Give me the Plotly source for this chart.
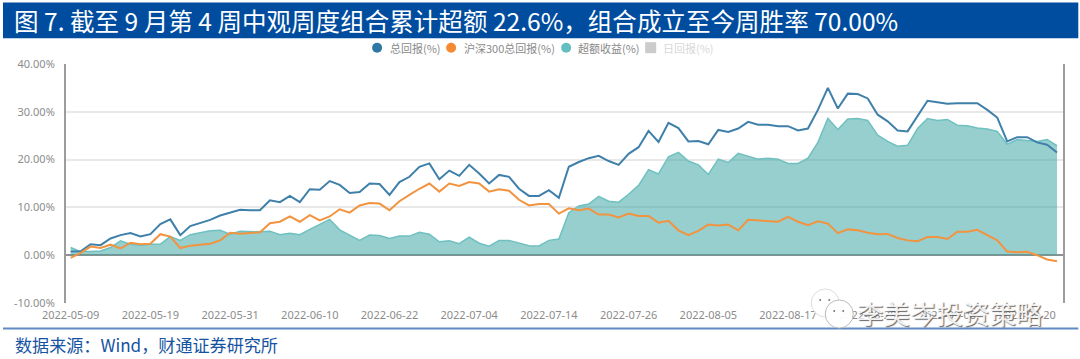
import pandas as pd
import plotly.graph_objects as go

dates = [d.strftime("%Y-%m-%d") for d in pd.bdate_range("2022-05-09", "2022-09-23")]

total_return = [0.75,0.8,2.3,2.1,3.5,4.2,4.65,3.9,4.4,6.5,7.5,4.2,6.1,6.8,7.4,8.3,8.9,9.5,9.4,9.4,
    11.5,11.1,12.4,11.1,13.8,13.7,15.5,14.7,13.0,13.2,15.0,14.9,12.6,15.3,16.4,18.5,19.2,15.9,17.7,16.6,
    18.9,17.1,15.0,16.8,16.4,13.9,12.4,12.4,13.6,12.0,18.5,19.5,20.3,20.8,19.7,18.9,21.2,22.6,26.0,23.7,
    27.7,26.6,23.8,23.9,23.2,26.2,25.8,26.5,27.9,27.3,27.3,27.0,27.0,26.1,26.5,30.4,35.0,30.7,33.8,33.7,
    32.8,29.4,28.0,26.1,25.9,29.1,32.3,32.0,31.7,31.8,31.8,31.8,30.4,28.8,23.8,24.7,24.7,23.6,23.1,21.5]

hs300_return = [-0.55,0.5,1.8,1.5,2.2,1.4,2.6,2.3,2.4,4.4,3.9,1.5,2.0,2.2,2.4,3.1,4.7,4.5,4.6,4.8,
    6.7,7.0,8.1,7.0,8.4,7.3,8.1,9.6,8.9,10.4,10.9,10.8,9.4,11.3,12.6,13.9,15.0,13.3,15.0,14.5,
    15.3,15.0,13.3,13.8,13.5,11.6,10.4,10.7,10.7,8.7,9.8,9.4,9.75,8.5,8.5,7.9,8.7,8.2,8.2,6.8,
    7.2,5.2,4.2,5.1,6.4,6.2,6.4,5.2,7.4,7.3,7.2,7.0,8.0,7.0,6.3,7.1,6.6,4.6,5.4,5.2,
    4.7,4.4,4.45,3.6,3.1,2.9,3.8,3.8,3.4,4.9,4.9,5.3,4.2,3.1,0.75,0.6,0.7,0.0,-0.9,-1.25]

excess_return = [1.6,0.75,0.75,0.9,1.6,3.0,2.3,2.1,2.3,2.3,3.9,3.1,4.3,4.75,5.1,5.2,4.4,5.0,4.9,4.9,
    5.0,4.3,4.6,4.3,5.4,6.5,7.5,5.3,4.25,3.1,4.2,4.1,3.5,4.0,4.0,4.8,4.4,2.8,3.0,2.4,
    3.8,2.5,1.9,3.1,3.1,2.5,2.0,1.95,3.1,3.4,8.9,10.3,10.7,12.3,11.3,11.1,12.75,14.6,17.9,17.0,
    20.6,21.5,19.7,18.9,16.9,20.1,19.4,21.3,20.7,20.1,20.3,20.1,19.2,19.2,20.3,23.6,28.6,26.3,28.5,28.6,
    28.2,25.1,23.8,22.8,23.0,26.5,28.6,28.2,28.4,27.2,27.1,26.6,26.4,25.9,23.2,24.2,24.0,23.8,24.2,22.9]

tick_step = 8
tick_dates = dates[::tick_step]
y_ticks = [-10, 0, 10, 20, 30, 40]
y_tick_labels = ["-10.00%", "0.00%", "10.00%", "20.00%", "30.00%", "40.00%"]

TITLE = "图 7. 截至 9 月第 4 周中观周度组合累计超额 22.6%，组合成立至今周胜率 70.00%"
SOURCE = "数据来源：Wind，财通证券研究所"
WATERMARK = "李美岑投资策略"
SERIES_NAMES = ["总回报(%)", "沪深300总回报(%)", "超额收益(%)", "日回报(%)"]
CJK = "Noto Sans CJK SC, Noto Sans, sans-serif"
W, H = 1080, 359
L, R, T, B = 66.0, 1062.7, 64.3, 303.0

def px(x):
    return (x - L) / (R - L)

def py(y):
    return (B - y) / (B - T)

def rect(x0, y0, x1, y1, **kw):
    return dict(type="rect", xref="paper", yref="paper", x0=px(x0), x1=px(x1), y0=py(y0), y1=py(y1), **kw)

def circle(cx, cy, r, **kw):
    return dict(type="circle", xref="paper", yref="paper", x0=px(cx - r), x1=px(cx + r),
                y0=py(cy - r), y1=py(cy + r), **kw)

def note(text, x, y, anchor="left", **font):
    return dict(text=text, xref="paper", yref="paper", x=px(x), y=py(y), xanchor=anchor, yanchor="middle",
                showarrow=False, font=font)

fig = go.Figure()
fig.add_trace(go.Scatter(x=dates, y=excess_return, name=SERIES_NAMES[2], mode="lines", fill="tozeroy",
                         fillcolor="rgba(62,167,167,0.54)", line=dict(color="#6fc0c0", width=1.5)))
fig.add_trace(go.Scatter(x=dates, y=total_return, name=SERIES_NAMES[0], mode="lines",
                         line=dict(color="#3f80aa", width=2)))
fig.add_trace(go.Scatter(x=dates, y=hs300_return, name=SERIES_NAMES[1], mode="lines",
                         line=dict(color="#f2933f", width=2)))

shapes = [
    rect(3, 3, 1078, 38.5, fillcolor="#004da0", line_width=0),
    rect(3, 327.5, 1078, 329.5, fillcolor="#5f8ac4", line_width=0),
    circle(377, 48, 5, fillcolor="#2f78a6", line_width=0),
    circle(451, 48, 5, fillcolor="#f58a33", line_width=0),
    circle(566, 48, 5, fillcolor="#63bfbf", line_width=0),
    rect(645, 42.5, 656, 53.5, fillcolor="#cccccc", line_width=0),
    circle(825, 303, 14, fillcolor="rgba(255,255,255,0.85)", line=dict(color="#dddddd", width=1)),
    circle(839, 314, 14, fillcolor="rgba(255,255,255,0.95)", line=dict(color="#bbbbbb", width=1)),
    circle(820, 300, 1, fillcolor="#777777", line_width=0),
    circle(829, 300, 1, fillcolor="#777777", line_width=0),
    circle(834, 311, 1, fillcolor="#777777", line_width=0),
    circle(843, 311, 1, fillcolor="#777777", line_width=0),
]

annotations = [
    note(TITLE, 12.5, 21, color="white", size=24.55, family=CJK),
    note(SOURCE, 13, 344, color="#1553a2", size=17.1, family=CJK),
    note(SERIES_NAMES[0], 388, 48, color="#8a8a8a", size=11, family=CJK),
    note(SERIES_NAMES[1], 462, 48, color="#8a8a8a", size=11, family=CJK),
    note(SERIES_NAMES[2], 576, 48, color="#8a8a8a", size=11, family=CJK),
    note(SERIES_NAMES[3], 661, 48, color="#d8d8d8", size=11, family=CJK),
    note(WATERMARK, 855, 312, color="rgba(255,255,255,0.9)", size=26.5, family=CJK,
         shadow="1px 1px 1px #555555"),
]

fig.update_layout(
    width=W, height=H, autosize=False,
    margin=dict(l=L, r=W - R, t=T, b=H - B, pad=0),
    paper_bgcolor="white", plot_bgcolor="white", showlegend=False,
    font=dict(family="Noto Sans, sans-serif", color="#8c8c8c", size=11),
    shapes=shapes, annotations=annotations,
    xaxis=dict(type="category", categoryorder="array", categoryarray=dates, range=[-0.47, 99.6],
               tickmode="array", tickvals=tick_dates, ticktext=tick_dates, showgrid=False,
               zeroline=False, showline=False, ticks="outside", ticklen=2, tickcolor="rgba(0,0,0,0)",
               tickangle=0, tickfont=dict(size=11, color="#8c8c8c")),
    yaxis=dict(range=[-10, 40], tickmode="array", tickvals=y_ticks, ticktext=y_tick_labels,
               showgrid=True, gridcolor="#e8e8e8", gridwidth=2, zeroline=True, zerolinecolor="#8f8f8f",
               zerolinewidth=2, showline=True, linecolor="#9c9c9c", linewidth=2, mirror=True,
               ticks="outside", ticklen=7, tickcolor="rgba(0,0,0,0)", layer="below traces",
               tickfont=dict(size=11, color="#8c8c8c")),
)

fig.write_html("out.html", config=dict(displayModeBar=False),
               post_script="document.body.style.margin='0';document.body.style.overflow='hidden';")
